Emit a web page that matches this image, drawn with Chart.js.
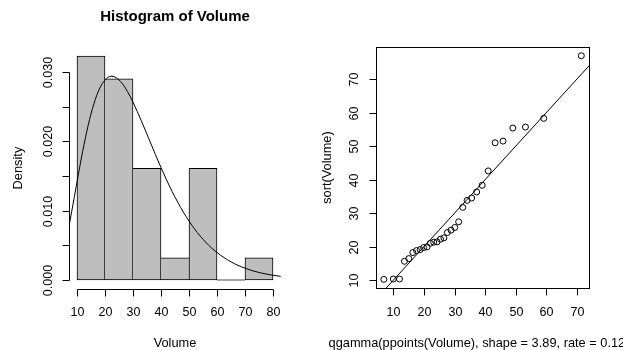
<!DOCTYPE html>
<html>
<head>
  <meta charset="utf-8">
  <title>Histogram of Volume</title>
  <script src="https://cdn.jsdelivr.net/npm/chart.js"></script>
  <style>
    body { margin: 0; background: #fff; }
    #wrap { position: relative; width: 623px; height: 350px; overflow: hidden; }
    canvas { position: absolute; top: 0; }
  </style>
</head>
<body>
  <div id="wrap">
    <canvas id="histChart" width="311" height="350" style="left:0"></canvas>
    <canvas id="qqChart" width="312" height="350" style="left:311px"></canvas>
  </div>

  <script>
    // histogram of Volume (density scale)
    const histBreaks = [10, 20, 30, 40, 50, 60, 70, 80];
    const binMids = [15, 25, 35, 45, 55, 65, 75];
    const binDensity = [0.0323, 0.0290, 0.0161, 0.0032, 0.0161, 0, 0.0032];

    // fitted gamma density
    const curveX = [7.2, 9, 11, 13, 15, 17, 19, 21, 22.5, 24, 26, 28, 30, 33, 36, 40, 44, 48, 52, 56, 60, 65, 70, 75, 80, 82.8];
    const curveY = [0.00786, 0.01187, 0.01638, 0.02050, 0.02396, 0.02658, 0.02831, 0.02921, 0.02939, 0.02918, 0.02842,
                    0.02720, 0.02565, 0.02294, 0.02004, 0.01622, 0.01275, 0.00979, 0.00736, 0.00544, 0.00397,
                    0.00262, 0.00171, 0.00109, 0.00069, 0.00053];

    const volumeTicks = [10, 20, 30, 40, 50, 60, 70, 80];
    const densityTicks = [0, 0.005, 0.010, 0.015, 0.020, 0.025, 0.030];
    const densityLabels = ['0.000', '', '0.010', '', '0.020', '', '0.030'];

    // gamma QQ plot
    const qqTheory = [6.83, 9.95, 11.96, 13.59, 15.03, 16.33, 17.56, 18.72, 19.86, 20.98, 22.06, 23.16, 24.26, 25.37,
                      26.49, 27.64, 28.83, 30.05, 31.33, 32.66, 34.09, 35.58, 37.23, 39.02, 41.00, 43.25, 45.86,
                      49.06, 53.18, 59.16, 71.46];
    const sortedVolume = [10.2, 10.3, 10.3, 15.6, 16.4, 18.2, 18.8, 19.1, 19.7, 19.9, 21.0, 21.3, 21.4, 22.2, 22.6,
                          24.2, 24.9, 25.7, 27.4, 31.7, 33.8, 34.5, 36.3, 38.3, 42.6, 51.0, 51.5, 55.4, 55.7, 58.3, 77.0];
    const refLineX = [0, 80];   // abline(0, 1)
    const qqXTicks = [10, 20, 30, 40, 50, 60, 70];
    const qqYTicks = [10, 20, 30, 40, 50, 60, 70];

    const FONT = '"Liberation Sans", Arial, Helvetica, sans-serif';

    // R style extended range (4% each side)
    function rRange(values) {
      const lo = Math.min(...values), hi = Math.max(...values);
      const pad = (hi - lo) * 0.04;
      return [lo - pad, hi + pad];
    }

    // draws R base graphics axes, box and titles
    const rAxes = {
      id: 'rAxes',
      afterDatasetsDraw(chart, args, o) {
        const ctx = chart.ctx;
        const xs = chart.scales.x, ys = chart.scales.y;
        const a = chart.chartArea;
        const L = Math.round(a.left) + 0.5, B = Math.round(a.bottom) + 0.5;
        ctx.save();
        ctx.strokeStyle = '#000';
        ctx.fillStyle = '#000';
        ctx.lineWidth = 1;

        if (o.box) {
          ctx.strokeRect(L, Math.round(a.top) + 0.5, Math.round(a.right) - Math.round(a.left), Math.round(a.bottom) - Math.round(a.top));
        }

        // x axis
        const px = o.xTicks.map(v => Math.round(xs.getPixelForValue(v)) + 0.5);
        ctx.beginPath();
        if (!o.box) { ctx.moveTo(px[0], B); ctx.lineTo(px[px.length - 1], B); }
        px.forEach(p => { ctx.moveTo(p, B); ctx.lineTo(p, B + 7); });
        // y axis
        const py = o.yTicks.map(v => Math.round(ys.getPixelForValue(v)) + 0.5);
        if (!o.box) { ctx.moveTo(L, py[0]); ctx.lineTo(L, py[py.length - 1]); }
        py.forEach(p => { ctx.moveTo(L, p); ctx.lineTo(L - 7, p); });
        ctx.stroke();

        ctx.font = '12.5px ' + FONT;
        ctx.textAlign = 'center';
        ctx.textBaseline = 'middle';
        o.xTicks.forEach((v, i) => ctx.fillText(String(v), px[i], a.bottom + 24));
        o.yLabels.forEach((t, i) => {
          if (!t) return;
          ctx.save();
          ctx.translate(a.left - 21, py[i]);
          ctx.rotate(-Math.PI / 2);
          ctx.fillText(t, 0, 0);
          ctx.restore();
        });

        const cx = (a.left + a.right) / 2;
        ctx.font = '12.8px ' + FONT;
        ctx.fillText(o.xTitle, cx, 343.5);
        ctx.save();
        ctx.translate(a.left - o.yTitleGap, (a.top + a.bottom) / 2);
        ctx.rotate(-Math.PI / 2);
        ctx.fillText(o.yTitle, 0, 0);
        ctx.restore();

        if (o.title) {
          ctx.font = 'bold 15px ' + FONT;
          ctx.fillText(o.title, cx, 16.5);
        }
        ctx.restore();
      }
    };

    // taller neighbour draws the shared edge, so separators stay 1px
    function barBorder(c) {
      const i = c.dataIndex, d = binDensity;
      return {
        top: 1, bottom: 1,
        left: (i === 0 || d[i] > d[i - 1]) ? 1 : 0,
        right: (i === d.length - 1 || d[i] >= d[i + 1]) ? 1 : 0
      };
    }

    const histX = rRange(histBreaks);
    const histY = rRange([0].concat(binDensity));

    new Chart(document.getElementById('histChart'), {
      type: 'bar',
      data: {
        datasets: [{
          type: 'line',
          order: 1,
          data: curveX.map((x, i) => ({ x: x, y: curveY[i] })),
          borderColor: '#000',
          borderWidth: 1,
          pointRadius: 0,
          tension: 0.4,
          cubicInterpolationMode: 'monotone',
          fill: false
        }, {
          type: 'bar',
          order: 2,
          data: binMids.map((x, i) => ({ x: x, y: binDensity[i] })),
          backgroundColor: '#bebebe',
          borderColor: '#000',
          borderWidth: barBorder,
          borderSkipped: false,
          barPercentage: 1,
          categoryPercentage: 1,
          minBarLength: 1
        }]
      },
      options: {
        responsive: false,
        animation: false,
        devicePixelRatio: 1,
        events: [],
        layout: { padding: { left: 69.16, right: 30.16, top: 47.1, bottom: 61 } },
        scales: {
          x: { type: 'linear', min: histX[0], max: histX[1], offset: false, display: false,
               ticks: { stepSize: 10, includeBounds: false } },
          y: { type: 'linear', min: histY[0], max: histY[1], display: false }
        },
        plugins: {
          legend: { display: false },
          tooltip: { enabled: false },
          rAxes: {
            box: false,
            xTicks: volumeTicks,
            yTicks: densityTicks,
            yLabels: densityLabels,
            xTitle: 'Volume',
            yTitle: 'Density',
            yTitleGap: 51,
            title: 'Histogram of Volume'
          }
        }
      },
      plugins: [rAxes]
    });

    const qqX = rRange(qqTheory);
    const qqY = rRange(sortedVolume);

    new Chart(document.getElementById('qqChart'), {
      type: 'scatter',
      data: {
        datasets: [{
          data: qqTheory.map((x, i) => ({ x: x, y: sortedVolume[i] })),
          pointStyle: 'circle',
          pointRadius: 3,
          borderColor: '#000',
          backgroundColor: 'rgba(0,0,0,0)',
          borderWidth: 1
        }, {
          type: 'line',
          data: refLineX.map(x => ({ x: x, y: x })),
          borderColor: '#000',
          borderWidth: 1,
          pointRadius: 0,
          fill: false
        }]
      },
      options: {
        responsive: false,
        animation: false,
        devicePixelRatio: 1,
        events: [],
        layout: { padding: { left: 64.9, right: 33.8, top: 46.8, bottom: 61.7 } },
        scales: {
          x: { type: 'linear', min: qqX[0], max: qqX[1], display: false },
          y: { type: 'linear', min: qqY[0], max: qqY[1], display: false }
        },
        plugins: {
          legend: { display: false },
          tooltip: { enabled: false },
          rAxes: {
            box: true,
            xTicks: qqXTicks,
            yTicks: qqYTicks,
            yLabels: qqYTicks.map(String),
            xTitle: 'qgamma(ppoints(Volume), shape = 3.89, rate = 0.129)',
            yTitle: 'sort(Volume)',
            yTitleGap: 48,
            title: ''
          }
        }
      },
      plugins: [rAxes]
    });
  </script>
</body>
</html>
